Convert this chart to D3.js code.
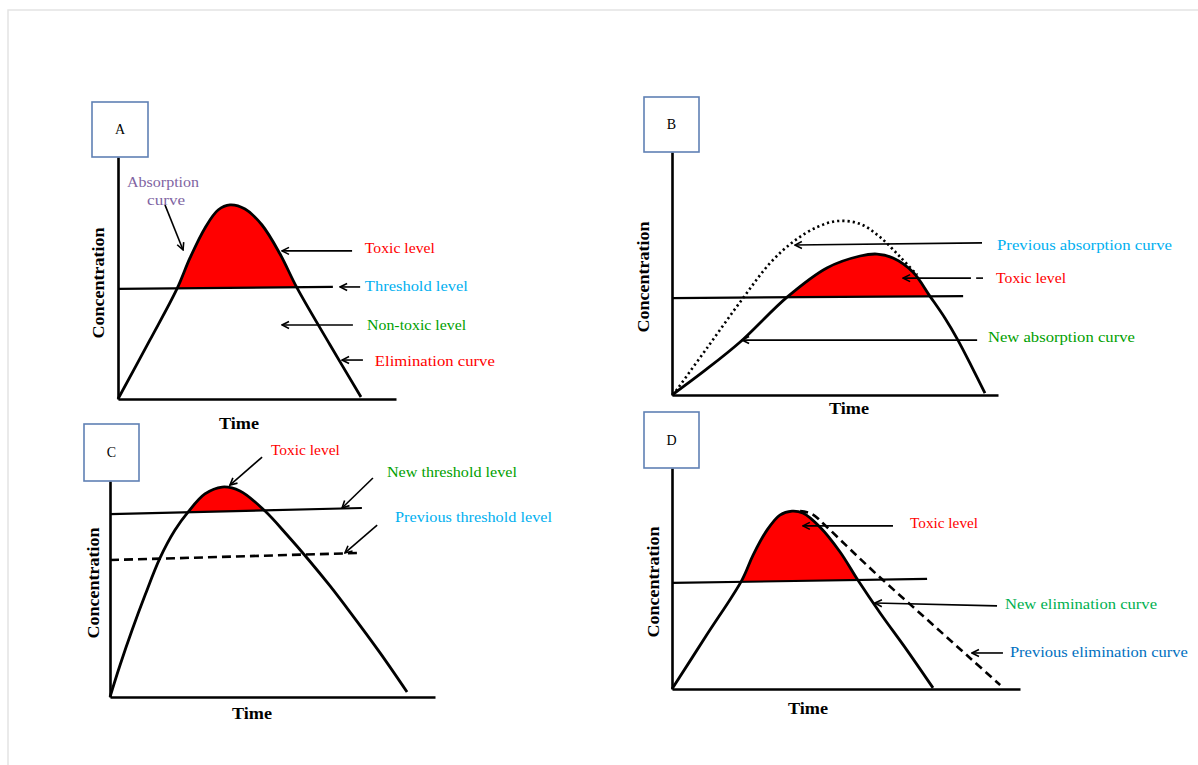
<!DOCTYPE html>
<html><head><meta charset="utf-8">
<script src="https://cdn.jsdelivr.net/npm/d3@7"></script>
<style>body{margin:0;background:#fff;} svg{display:block;}</style>
</head><body><svg id="c" width="1198" height="765"></svg>
<script>
// ---------------- DATA (time, concentration) ----------------
const panelIds = ["A", "B", "C", "D"];

const curveA = [[0,0],[1.15,2.44],[2.12,4.55],[2.59,5.83],[3.13,7.07],[3.60,7.81],[4.03,8.02],[4.57,7.85],[5.18,7.19],[5.83,5.99],[6.44,4.59],[7.63,2.23],[8.74,0.08]];
const thresholdA = [[0,4.55],[7.73,4.63]];

const curveB = [[0,0],[1.00,1.00],[2.09,2.18],[3.53,4.03],[4.75,5.23],[5.77,5.72],[6.29,5.80],[6.78,5.64],[7.39,5.06],[7.91,4.07],[8.37,3.17],[8.77,2.26],[9.20,1.15],[9.60,0.08]];
const prevAbsorptionB = [[0.03,0],[1.10,1.98],[2.18,3.99],[3.01,5.43],[3.71,6.30],[4.45,6.91],[5.09,7.16],[5.77,7.04],[6.38,6.50],[7.00,5.68],[7.52,4.94]];
const thresholdB = [[0,3.99],[8.93,4.07]];

const curveC = [[0,0],[0.31,1.48],[0.68,3.10],[1.08,4.72],[1.54,6.44],[2.00,7.73],[2.40,8.56],[2.92,9.40],[3.45,9.72],[4.00,9.54],[4.77,8.61],[5.45,7.50],[6.09,6.39],[6.77,5.14],[7.38,3.94],[8.31,2.04],[9.14,0.23]];
const thresholdC = [[0,8.47],[7.75,8.75]];
const prevThresholdC = [[0,6.34],[7.75,6.67]];

const curveD = [[0,0],[1.00,2.45],[2.01,4.93],[2.33,6.06],[2.73,7.19],[3.10,7.87],[3.45,8.05],[3.76,7.96],[4.25,7.33],[4.83,6.20],[5.34,4.93],[5.98,3.44],[6.75,1.76],[7.50,0.05]];
const prevEliminationD = [[3.68,8.05],[4.02,7.92],[4.45,7.33],[5.20,6.20],[6.06,4.93],[6.90,3.75],[7.75,2.55],[8.60,1.35],[9.43,0.18]];
const thresholdD = [[0,4.80],[7.33,4.98]];

// annotation texts and anchors (time, concentration)
const labelsA = [
  {text:"Absorption", at:[1.62,8.97], color:"#8064A2", len:72, anchor:"middle"},
  {text:"curve", at:[1.73,8.22], color:"#8064A2", len:38, anchor:"middle"},
  {text:"Toxic level", at:[8.88,6.24], color:"#FF0000", len:70},
  {text:"Threshold level", at:[8.88,4.67], color:"#00B0F0", len:103},
  {text:"Non-toxic level", at:[8.96,3.06], color:"#00A000", len:99},
  {text:"Elimination curve", at:[9.24,1.57], color:"#FF0000", len:120}
];
const arrowsA = [[[1.69,8.02],[2.34,6.16]], [[8.42,6.12],[5.90,6.12]], [[8.71,4.63],[7.99,4.63]], [[8.45,3.06],[5.90,3.06]], [[8.81,1.61],[8.06,1.61]]];

const labelsB = [
  {text:"Previous absorption curve", at:[9.97,6.17], color:"#00B0F0", len:175},
  {text:"Toxic level", at:[9.94,4.81], color:"#FF0000", len:70},
  {text:"New absorption curve", at:[9.69,2.39], color:"#00A000", len:147}
];
const arrowsB = [[[9.51,6.26],[3.77,6.17]], [[9.17,4.81],[7.09,4.81]], [[9.36,2.26],[2.15,2.26]]];
const segmentsB = [[[9.33,4.81],[9.54,4.81]]];

const labelsC = [
  {text:"Toxic level", at:[4.95,11.44], color:"#FF0000", len:69},
  {text:"New threshold level", at:[8.52,10.42], color:"#00A000", len:130},
  {text:"Previous threshold level", at:[8.77,8.33], color:"#00B0F0", len:157}
];
const arrowsC = [[[4.68,11.11],[3.69,9.81]], [[8.09,10.14],[7.14,8.75]], [[8.22,7.96],[7.23,6.67]]];

const labelsD = [
  {text:"Toxic level", at:[6.84,7.51], color:"#FF0000", len:68},
  {text:"New elimination curve", at:[9.57,3.85], color:"#00B050", len:152},
  {text:"Previous elimination curve", at:[9.71,1.67], color:"#0070C0", len:178}
];
const arrowsD = [[[6.35,7.38],[3.76,7.38]], [[9.34,3.76],[5.83,3.89]], [[9.51,1.63],[8.62,1.63]]];

const axisTitles = {x:"Time", y:"Concentration"};

// ---------------- LAYOUT ----------------
const panels = [
  {id:"A", xr:[118,396], yr:[399,157], box:[92,102,56,55], timeAt:[239,423], concAt:[98,283],
   curve:curveA, threshold:thresholdA, labels:labelsA, arrows:arrowsA, segments:[]},
  {id:"B", xr:[672,998], yr:[395,152], box:[644,97,55,55], timeAt:[849,408], concAt:[643,277],
   curve:curveB, threshold:thresholdB, labels:labelsB, arrows:arrowsB, segments:segmentsB,
   extra:{pts:prevAbsorptionB, dash:"2.2,3", w:2.6, curved:true}},
  {id:"C", xr:[110,435], yr:[697,481], box:[84,424,55,57], timeAt:[252,713], concAt:[93,583],
   curve:curveC, threshold:thresholdC, labels:labelsC, arrows:arrowsC, segments:[],
   extra:{pts:prevThresholdC, dash:"9,5", w:2.6, curved:false}},
  {id:"D", xr:[672,1020], yr:[689,468], box:[644,412,55,56], timeAt:[808,708], concAt:[653,582],
   curve:curveD, threshold:thresholdD, labels:labelsD, arrows:arrowsD, segments:[],
   extra:{pts:prevEliminationD, dash:"8,5", w:2.6, curved:true}}
];

const serif = "'Liberation Serif','Times New Roman',serif";
const svg = d3.select("#c");
svg.append("path").attr("d","M8,765V10H1198").attr("fill","none").attr("stroke","#e4e4e4").attr("stroke-width",1.5);
const defs = svg.append("defs");
defs.append("marker").attr("id","ah").attr("viewBox","-9 -5 10 10").attr("refX",0).attr("refY",0)
  .attr("markerWidth",10).attr("markerHeight",10).attr("markerUnits","userSpaceOnUse").attr("orient","auto")
  .append("path").attr("d","M-7,-3.5L0,0L-7,3.5").attr("fill","none").attr("stroke","#000").attr("stroke-width",1.6);

panels.forEach(p => {
  const x = d3.scaleLinear().domain([0,10]).range(p.xr);
  const y = d3.scaleLinear().domain([0,10]).range(p.yr);
  const g = svg.append("g");
  const smooth = d3.line().x(d=>x(d[0])).y(d=>y(d[1])).curve(d3.curveCatmullRom.alpha(0.5));
  const straight = d3.line().x(d=>x(d[0])).y(d=>y(d[1]));

  // clip region above the threshold
  const [a,b] = p.threshold;
  const slope = (b[1]-a[1])/(b[0]-a[0]);
  const thr = t => a[1] + slope*(t-a[0]);
  defs.append("clipPath").attr("id","clip"+p.id).append("path")
    .attr("d",`M${x(-1)},${y(thr(-1))}L${x(11)},${y(thr(11))}L${x(11)},0L${x(-1)},0Z`);

  // toxic area
  g.append("path").attr("d", smooth(p.curve)+"Z").attr("fill","#FF0000").attr("clip-path",`url(#clip${p.id})`);

  // axes
  g.append("g").attr("transform",`translate(0,${y(0)})`)
    .call(d3.axisBottom(x).tickValues([]).tickSizeOuter(0))
    .call(s=>s.select(".domain").attr("stroke","#000").attr("stroke-width",2.6));
  g.append("g").attr("transform",`translate(${x(0)},0)`)
    .call(d3.axisLeft(y).tickValues([]).tickSizeOuter(0))
    .call(s=>s.select(".domain").attr("stroke","#000").attr("stroke-width",2.6));

  // threshold
  g.append("path").attr("d", straight(p.threshold)).attr("fill","none").attr("stroke","#000").attr("stroke-width",2.2);

  // extra (previous) curve
  if (p.extra) {
    g.append("path").attr("d", (p.extra.curved?smooth:straight)(p.extra.pts)).attr("fill","none")
      .attr("stroke","#000").attr("stroke-width",p.extra.w).attr("stroke-dasharray",p.extra.dash);
  }

  // main curve
  g.append("path").attr("d", smooth(p.curve)).attr("fill","none").attr("stroke","#000")
    .attr("stroke-width",2.8).attr("stroke-linejoin","round");

  // arrows
  p.arrows.forEach(ar => {
    g.append("line").attr("x1",x(ar[0][0])).attr("y1",y(ar[0][1])).attr("x2",x(ar[1][0])).attr("y2",y(ar[1][1]))
      .attr("stroke","#000").attr("stroke-width",1.6).attr("marker-end","url(#ah)");
  });
  p.segments.forEach(ar => {
    g.append("line").attr("x1",x(ar[0][0])).attr("y1",y(ar[0][1])).attr("x2",x(ar[1][0])).attr("y2",y(ar[1][1]))
      .attr("stroke","#000").attr("stroke-width",1.6);
  });

  // labels
  p.labels.forEach(l => {
    g.append("text").attr("x",x(l.at[0])).attr("y",y(l.at[1])).attr("dy","0.35em")
      .attr("text-anchor",l.anchor||"start").attr("fill",l.color)
      .attr("font-family",serif).attr("font-size",15)
      .attr("textLength",l.len).attr("lengthAdjust","spacingAndGlyphs").text(l.text);
  });

  // axis titles
  g.append("text").attr("x",p.timeAt[0]).attr("y",p.timeAt[1]).attr("dy","0.35em").attr("text-anchor","middle")
    .attr("font-family",serif).attr("font-size",16).attr("font-weight","bold")
    .attr("textLength",40).attr("lengthAdjust","spacingAndGlyphs").text(axisTitles.x);
  g.append("text").attr("transform",`translate(${p.concAt[0]},${p.concAt[1]}) rotate(-90)`).attr("dy","0.35em")
    .attr("text-anchor","middle").attr("font-family",serif).attr("font-size",16).attr("font-weight","bold")
    .attr("textLength",111).attr("lengthAdjust","spacingAndGlyphs").text(axisTitles.y);

  // panel box
  g.append("rect").attr("x",p.box[0]).attr("y",p.box[1]).attr("width",p.box[2]).attr("height",p.box[3])
    .attr("fill","#fff").attr("stroke","#5F80B4").attr("stroke-width",1.6);
  g.append("text").attr("x",p.box[0]+p.box[2]/2).attr("y",p.box[1]+p.box[3]/2).attr("dy","0.35em")
    .attr("text-anchor","middle").attr("font-family",serif).attr("font-size",14).text(p.id);
});
</script></body></html>
